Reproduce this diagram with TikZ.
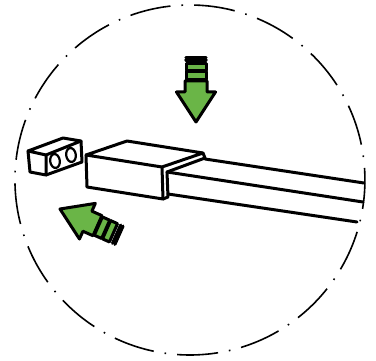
\documentclass[tikz,border=0pt]{standalone}
\usepackage{xcolor}
\definecolor{arrowgreen}{HTML}{6AB547}
\tikzset{
    edge/.style={draw=black, line width=3pt, line join=round, line cap=round},
    bandline/.style={draw=black, line width=3.2pt, line cap=round},
    pics/pointer/.style={code={
        \filldraw[edge, fill=arrowgreen] (0,0) -- (-19.5,-30) -- (-11,-30) -- (-11,-41) -- (11,-41) -- (11,-30) -- (19.5,-30) -- cycle;
        \filldraw[edge, fill=arrowgreen] (-10,-50) rectangle (10,-42);
        \filldraw[edge, fill=arrowgreen] (-10,-58.5) rectangle (10,-51);
        \draw[bandline] (-10,-62) -- (10,-62);
        \draw[bandline] (-10,-64.5) -- (10,-64.5);
    }}
}
\begin{document}
\begin{tikzpicture}[x=1pt, y=-1pt]
    \useasboundingbox (0,0) rectangle (376,361);
    \draw[line width=1.6pt, dash pattern=on 41.08pt off 11pt on 1.6pt off 11pt, dash phase=53.1pt]
        (182,5.2) arc[start angle=92.6, end angle=452.6, x radius=175, y radius=-175];
    \pic at (196,122) {pointer};
    \pic[rotate=-114] at (60,209) {pointer};
    \draw[edge] (28,151) -- (63,138) -- (81,141) -- (46,155) -- cycle;
    \draw[edge] (28,151) -- (30,172) -- (46,175) -- (46,155);
    \draw[edge] (46,175) -- (82,162) -- (81,141);
    \draw[line width=2.2pt, rotate around={8:(55,161)}] (55,161) ellipse[x radius=4.8, y radius=7];
    \draw[line width=2.2pt, rotate around={8:(71,155)}] (71,155) ellipse[x radius=4.8, y radius=7];
    \draw[edge] (86,155) -- (127,141) -- (203,153) -- (162,167) -- cycle;
    \draw[edge] (86,155) -- (87,187) -- (163,199) -- (162,167);
    \draw[edge] (167,172) -- (205,158) -- (203,153);
    \draw[edge] (167,172) -- (168,197) -- (163,199);
    \draw[edge] (205,159) -- (364,183);
    \draw[edge] (167,172) -- (363,202);
    \draw[edge] (168,194) -- (357,222);
\end{tikzpicture}
\end{document}
